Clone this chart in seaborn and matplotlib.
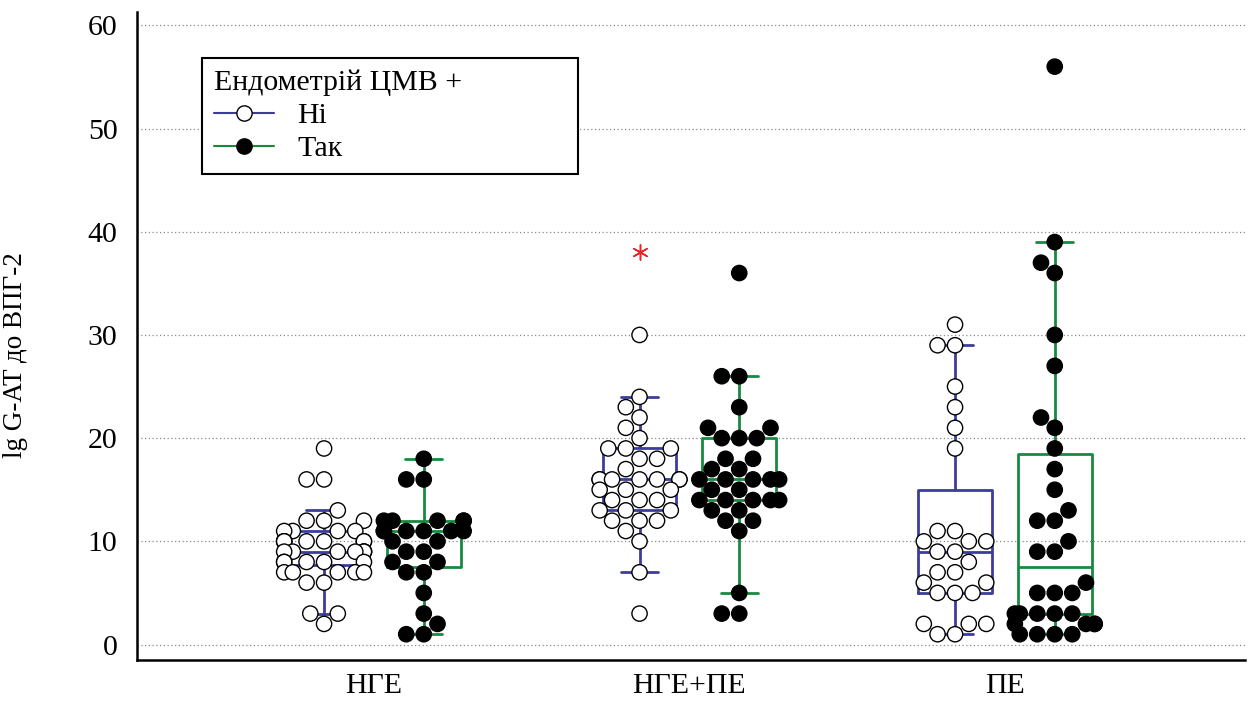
import numpy as np
import pandas as pd
import matplotlib
matplotlib.use("Agg")
import matplotlib.pyplot as plt
from matplotlib.lines import Line2D
from matplotlib.ticker import MultipleLocator
import seaborn as sns

# Categories and groups
categories = ["НГЕ", "НГЕ+ПЕ", "ПЕ"]
groups = ["Ні", "Так"]

# Observed values per category / group
nge_ni = [19, 16, 16, 13, 12, 12, 12, 11, 11, 11, 11,
          10, 10, 10, 10, 10, 10, 10, 9, 9, 9, 9, 9, 9, 9,
          8, 8, 8, 8, 8, 7, 7, 7, 7, 7, 6, 6, 3, 3, 2]
nge_tak = [18, 16, 16, 12, 12, 12, 12, 12, 11, 11, 11, 11, 11, 11,
           10, 10, 9, 9, 8, 8, 7, 7, 5, 3, 2, 1, 1]
ngepe_ni = [38, 30, 24, 23, 22, 21, 20, 19, 19, 19, 18, 18, 17,
            16, 16, 16, 16, 16, 16, 16, 15, 15, 15, 14, 14, 14,
            13, 13, 13, 12, 12, 12, 11, 10, 7, 3]
ngepe_tak = [36, 26, 26, 23, 21, 21, 20, 20, 20, 18, 18, 17, 17,
             16, 16, 16, 16, 16, 15, 15, 14, 14, 14, 14, 14,
             13, 13, 12, 12, 11, 5, 3, 3]
pe_ni = [31, 29, 29, 25, 23, 21, 19, 11, 11, 10, 10, 10, 9, 9, 8,
         7, 7, 6, 6, 5, 5, 5, 2, 2, 2, 1, 1]
pe_tak = [56, 39, 37, 36, 30, 27, 22, 21, 19, 17, 15, 13, 12, 12, 10, 9, 9,
          6, 5, 5, 5, 3, 3, 3, 3, 3, 2, 2, 2, 2, 1, 1, 1, 1]

series = {
    ("НГЕ", "Ні"): nge_ni,
    ("НГЕ", "Так"): nge_tak,
    ("НГЕ+ПЕ", "Ні"): ngepe_ni,
    ("НГЕ+ПЕ", "Так"): ngepe_tak,
    ("ПЕ", "Ні"): pe_ni,
    ("ПЕ", "Так"): pe_tak,
}

rows = [(cat, grp, v) for (cat, grp), vals in series.items() for v in vals]
df = pd.DataFrame(rows, columns=["category", "group", "value"])

# place each group beside its category centre
hue_shift = 0.158
cat_index = {c: i for i, c in enumerate(categories)}
df["pos"] = df["category"].map(cat_index) + df["group"].map({"Ні": -hue_shift, "Так": hue_shift})


def far_out(s):
    q1, q3 = np.percentile(s, [25, 75])
    iqr = q3 - q1
    return (s < q1 - 3 * iqr) | (s > q3 + 3 * iqr)


df["far"] = df.groupby(["category", "group"])["value"].transform(far_out).astype(bool)

sns.set_style("white")
plt.rcParams["font.family"] = ["Liberation Serif", "DejaVu Serif"]
plt.rcParams["text.color"] = "black"
plt.rcParams["axes.labelcolor"] = "black"

fig = plt.figure(figsize=(12.52, 7.02), dpi=100)
ax = fig.add_axes([0.1094, 0.0598, 0.8850, 0.9232])

box_colors = {"Ні": "#3c3c9c", "Так": "#168a40"}
dot_colors = {"Ні": "white", "Так": "black"}

sns.boxplot(data=df, x="pos", y="value", hue="group", hue_order=groups,
            native_scale=True, fill=False, palette=box_colors, width=0.74,
            showfliers=False, whis=1.5, linewidth=2.0, legend=False, ax=ax)

sns.swarmplot(data=df[~df["far"]], x="pos", y="value", hue="group", hue_order=groups,
              native_scale=True, palette=dot_colors, size=11, edgecolor="black",
              linewidth=1.0, legend=False, warn_thresh=1, ax=ax)

# values beyond three interquartile ranges
far = df[df["far"]]
ax.scatter(far["pos"], far["value"], marker=(6, 2, 0), s=120, color="#e8262a",
           linewidths=1.1, zorder=5)

ax.set_xlim(-0.751, 2.761)
ax.set_ylim(-1.5, 61.3)
ax.set_xticks(range(len(categories)))
ax.set_xticklabels(categories)
ax.yaxis.set_major_locator(MultipleLocator(10))
ax.yaxis.set_minor_locator(MultipleLocator(5))

ax.grid(axis="y", which="major", linestyle=(0, (1, 2)), color="#8a8a8a", linewidth=0.9)
ax.grid(axis="x", visible=False)
ax.set_axisbelow(True)

sns.despine(ax=ax)
for side in ("left", "bottom"):
    ax.spines[side].set_linewidth(1.8)
    ax.spines[side].set_color("black")

ax.tick_params(axis="both", which="major", direction="out", length=8, width=1.5,
               labelsize=21.5, colors="black", pad=6)
ax.tick_params(axis="y", which="minor", direction="out", length=5, width=1.2)
ax.tick_params(axis="x", which="major", length=6, pad=3)

ax.set_xlabel("")
ax.set_ylabel("lg G-AT до ВПГ-2", fontsize=19.5)
ax.yaxis.set_label_coords(-0.0984, 0.47)

handles = [
    Line2D([], [], color=box_colors["Ні"], linewidth=1.5, marker="o", markersize=11,
           markerfacecolor="white", markeredgecolor="black", markeredgewidth=1.0),
    Line2D([], [], color=box_colors["Так"], linewidth=1.5, marker="o", markersize=11,
           markerfacecolor="black", markeredgecolor="black"),
]
leg = ax.legend(handles, groups, title="Ендометрій ЦМВ +", loc="upper left",
                bbox_to_anchor=(0.0587, 0.756, 0.3394, 0.173), mode="expand",
                borderaxespad=0, frameon=True, fancybox=False, edgecolor="black",
                framealpha=1, fontsize=21.5, title_fontsize=21.5, alignment="left",
                handlelength=2.0, handletextpad=0.8, labelspacing=0.2, borderpad=0.4)
leg.get_frame().set_linewidth(1.5)

fig.savefig("out.png", dpi=100)
